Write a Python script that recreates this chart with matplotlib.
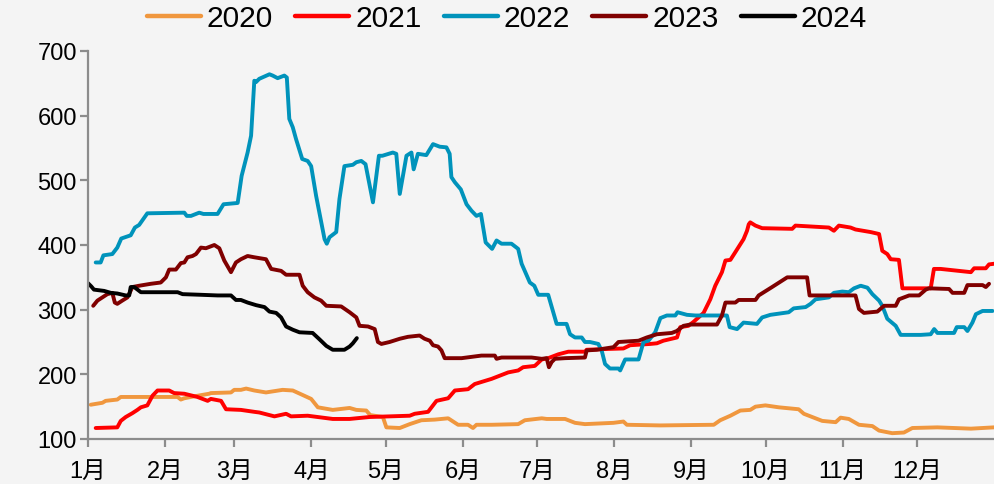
import matplotlib.pyplot as plt

plt.rcParams['font.family'] = ['Liberation Sans', 'Noto Sans CJK SC']

years = ['2020', '2021', '2022', '2023', '2024']
colors = ['#F0973E', '#FF0000', '#0093BB', '#800000', '#000000']

# (day of year, price) pairs per year
s2020 = [(1.1, 153), (5.8, 156), (7.1, 159), (11.8, 161), (13.2, 165), (25.3, 165), (36.1, 165),
         (37.4, 161), (38.8, 163), (42.8, 166), (48.8, 170), (49.5, 171), (57.6, 172), (58.9, 176),
         (61.6, 176), (63.7, 178), (67.0, 175), (71.7, 172), (78.4, 176), (82.5, 175), (86.5, 168),
         (89.9, 162), (92.6, 149), (98.6, 145), (105.4, 148), (108.1, 145), (112.1, 144), (113.7, 137),
         (118.8, 134), (120.2, 118), (125.6, 117), (129.6, 123), (134.3, 129), (139.7, 130), (145.1, 132),
         (149.1, 122), (153.1, 122), (155.1, 117), (156.5, 122), (162.6, 122), (173.3, 123), (176.0, 129),
         (182.8, 132), (184.8, 131), (192.2, 131), (196.2, 125), (200.2, 123), (211.7, 125), (215.7, 127),
         (217.1, 122), (230.6, 121), (252.1, 122), (254.7, 129), (258.8, 136), (262.8, 144), (266.8, 145),
         (268.9, 150), (272.9, 152), (278.3, 149), (286.3, 146), (288.4, 139), (293.1, 132), (295.8, 128),
         (301.2, 126), (303.2, 133), (306.5, 131), (310.6, 122), (316.0, 120), (318.7, 113), (324.0, 109),
         (328.7, 110), (332.1, 117), (342.2, 118), (355.7, 116), (365.0, 118)]

s2021 = [(3.1, 117), (11.8, 118), (13.2, 128), (15.2, 134), (17.9, 140), (19.9, 145), (21.3, 149),
         (23.9, 152), (26.0, 167), (28.0, 175), (32.7, 175), (34.7, 171), (38.8, 170), (44.1, 165),
         (48.2, 159), (49.5, 162), (53.6, 159), (55.6, 146), (61.6, 145), (67.0, 142), (69.0, 141),
         (75.1, 135), (79.8, 139), (81.8, 135), (88.5, 136), (98.6, 131), (105.4, 131), (113.4, 134),
         (121.5, 135), (129.6, 136), (131.6, 139), (137.0, 142), (139.0, 152), (140.4, 159), (145.1, 163),
         (147.8, 175), (153.1, 177), (155.8, 185), (162.6, 193), (169.3, 203), (173.3, 206), (175.3, 211),
         (180.0, 213), (182.8, 223), (185.4, 225), (189.5, 231), (193.5, 235), (200.2, 235), (200.9, 238),
         (207.6, 239), (215.7, 240), (218.4, 245), (226.5, 247), (229.2, 248), (231.8, 252), (237.3, 257),
         (238.6, 273), (241.9, 275), (243.9, 281), (248.0, 295), (250.7, 316), (252.7, 337), (255.4, 358),
         (256.8, 376), (258.8, 377), (260.8, 389), (264.1, 409), (265.5, 422), (266.2, 432), (266.8, 435),
         (268.9, 430), (271.6, 426), (283.7, 425), (285.0, 430), (298.5, 427), (300.5, 422), (302.5, 430),
         (307.2, 427), (309.2, 424), (315.3, 420), (318.7, 417), (320.0, 391), (322.0, 386), (323.4, 378),
         (326.7, 377), (328.1, 333), (339.5, 333), (340.8, 363), (343.5, 363), (355.7, 358), (357.0, 364),
         (361.7, 364), (363.0, 370), (365.0, 371)]

s2022 = [(3.1, 373), (5.1, 373), (6.2, 384), (9.8, 386), (11.8, 396), (13.4, 410), (17.2, 415),
         (18.9, 427), (20.6, 431), (23.9, 449), (38.8, 450), (39.8, 445), (41.5, 445), (44.8, 450),
         (46.5, 448), (52.2, 448), (54.6, 463), (60.3, 465), (61.9, 507), (64.3, 543), (65.7, 569),
         (66.6, 626), (67.0, 654), (67.7, 652), (69.0, 657), (73.1, 664), (74.4, 662), (76.4, 658),
         (79.1, 662), (80.1, 659), (81.1, 595), (82.5, 582), (83.8, 564), (86.3, 533), (88.5, 530),
         (89.9, 522), (91.9, 476), (95.3, 409), (96.2, 402), (97.3, 412), (100.0, 420), (101.3, 471),
         (103.3, 522), (106.7, 524), (108.1, 528), (110.1, 530), (111.8, 525), (114.8, 466), (117.2, 538),
         (118.6, 538), (122.8, 543), (124.2, 541), (125.6, 479), (128.3, 538), (130.3, 543), (131.2, 517),
         (132.9, 541), (136.3, 539), (139.0, 556), (141.7, 552), (144.4, 551), (145.7, 541), (146.4, 505),
         (147.8, 497), (150.2, 486), (152.5, 463), (154.5, 453), (156.5, 445), (158.3, 448), (160.2, 404),
         (162.8, 394), (164.6, 407), (166.6, 402), (170.6, 402), (173.3, 394), (174.7, 371), (178.0, 342),
         (179.8, 337), (181.4, 323), (185.4, 323), (188.8, 278), (192.8, 278), (194.2, 262), (196.2, 257),
         (198.9, 257), (200.2, 250), (202.2, 250), (205.6, 247), (207.0, 236), (208.3, 216), (210.3, 209),
         (213.7, 209), (214.4, 206), (216.4, 223), (221.8, 223), (223.8, 250), (225.8, 252), (228.5, 265),
         (230.6, 287), (233.2, 291), (236.6, 291), (237.5, 296), (241.3, 292), (244.7, 291), (257.4, 291),
         (258.5, 273), (261.5, 270), (264.1, 280), (266.8, 279), (269.5, 278), (271.6, 288), (274.9, 292),
         (282.3, 296), (284.3, 302), (289.1, 304), (291.1, 309), (293.1, 316), (298.5, 319), (300.5, 326),
         (303.9, 328), (306.5, 327), (308.6, 333), (311.3, 337), (314.0, 334), (316.0, 324), (318.7, 314),
         (320.0, 306), (322.0, 286), (325.4, 275), (327.4, 261), (335.5, 261), (339.5, 262), (340.9, 270),
         (342.2, 264), (348.9, 264), (350.0, 273), (353.0, 273), (354.3, 267), (356.3, 280), (357.7, 293),
         (360.4, 298), (364.4, 298)]

s2023 = [(2.1, 306), (3.8, 314), (5.8, 319), (7.8, 324), (9.8, 326), (10.8, 311), (11.8, 309),
         (13.8, 314), (15.9, 319), (17.9, 335), (20.6, 337), (25.3, 340), (29.3, 342), (31.4, 350),
         (32.7, 362), (35.4, 362), (37.4, 372), (38.8, 373), (40.1, 381), (42.1, 383), (43.5, 386),
         (45.5, 396), (47.5, 395), (50.9, 400), (52.9, 395), (54.9, 376), (57.6, 358), (59.6, 373),
         (61.6, 378), (64.3, 383), (67.0, 381), (71.7, 378), (73.8, 363), (77.8, 360), (79.8, 354),
         (85.2, 354), (86.5, 337), (88.5, 327), (91.2, 319), (93.9, 314), (96.0, 306), (102.0, 305),
         (105.4, 296), (108.1, 288), (109.4, 275), (112.8, 274), (115.5, 270), (116.8, 250), (118.2, 247),
         (121.5, 250), (125.6, 255), (128.9, 258), (133.6, 260), (135.6, 255), (137.7, 252), (139.0, 245),
         (141.0, 243), (142.4, 237), (143.7, 225), (150.5, 225), (158.5, 229), (163.9, 229), (164.6, 224),
         (166.6, 226), (178.7, 226), (182.8, 224), (184.8, 225), (185.7, 211), (186.8, 219), (188.1, 224),
         (192.2, 225), (200.2, 226), (200.9, 237), (205.0, 238), (211.7, 242), (213.7, 250), (221.8, 252),
         (225.1, 257), (229.2, 262), (235.2, 264), (237.2, 267), (239.9, 275), (242.6, 277), (253.4, 277),
         (255.4, 291), (256.8, 311), (260.8, 311), (262.1, 315), (268.9, 315), (270.2, 322), (275.6, 335),
         (281.7, 350), (289.7, 350), (290.7, 322), (309.2, 322), (310.6, 301), (312.6, 295), (318.0, 297),
         (320.7, 306), (325.4, 306), (326.7, 316), (330.8, 322), (334.8, 322), (337.5, 331), (338.8, 333),
         (346.9, 332), (348.3, 326), (353.0, 326), (354.3, 338), (360.4, 338), (361.7, 335), (363.0, 340)]

s2024 = [(0.0, 341), (1.3, 336), (2.4, 331), (6.5, 329), (9.2, 326), (11.8, 325), (15.2, 322),
         (16.6, 322), (17.2, 335), (18.6, 335), (21.3, 327), (36.1, 327), (38.1, 324), (45.5, 323),
         (52.2, 322), (57.6, 322), (59.6, 315), (61.6, 315), (64.3, 311), (67.7, 307), (71.1, 304),
         (73.1, 297), (75.8, 295), (77.8, 288), (79.8, 274), (82.5, 269), (85.2, 265), (90.5, 264),
         (93.3, 254), (96.0, 244), (98.6, 238), (103.3, 238), (105.4, 243), (106.7, 248), (108.3, 256)]

series = [s2020, s2021, s2022, s2023, s2024]

month_starts = [0, 31, 59, 90, 120, 151, 181, 212, 243, 273, 304, 334]
month_labels = [f'{m}月' for m in range(1, 13)]
y_ticks = [100, 200, 300, 400, 500, 600, 700]

bg = '#F4F4F4'
axis_gray = '#8C8C8C'

fig = plt.figure(figsize=(9.94, 4.85), dpi=100, facecolor=bg)
ax = fig.add_axes([88 / 994, 45 / 485, 906 / 994, 388 / 485])
ax.set_facecolor(bg)

for year, color, data in zip(years, colors, series):
    days = [p[0] for p in data]
    vals = [p[1] for p in data]
    ax.plot(days, vals, color=color, lw=2.8, label=year,
            solid_joinstyle='round', solid_capstyle='round')

ax.set_xlim(0, 365)
ax.set_ylim(100, 700)
ax.set_xticks(month_starts)
ax.set_xticklabels(month_labels)
ax.set_yticks(y_ticks)

for side in ['top', 'right']:
    ax.spines[side].set_visible(False)
for side in ['left', 'bottom']:
    ax.spines[side].set_color(axis_gray)
    ax.spines[side].set_linewidth(1.6)

ax.tick_params(axis='both', direction='out', length=6, width=1.6, color=axis_gray,
               labelsize=17, labelcolor='black')
ax.tick_params(axis='x', pad=9)
ax.tick_params(axis='y', pad=2)

leg = fig.legend(loc='upper center', bbox_to_anchor=(0.51, 1.045), ncol=5, frameon=False,
                 fontsize=21.5, handlelength=1.8, handletextpad=0.2, columnspacing=0.75)
for line in leg.get_lines():
    line.set_linewidth(3.2)

fig.savefig('out.png', dpi=100, facecolor=bg)
